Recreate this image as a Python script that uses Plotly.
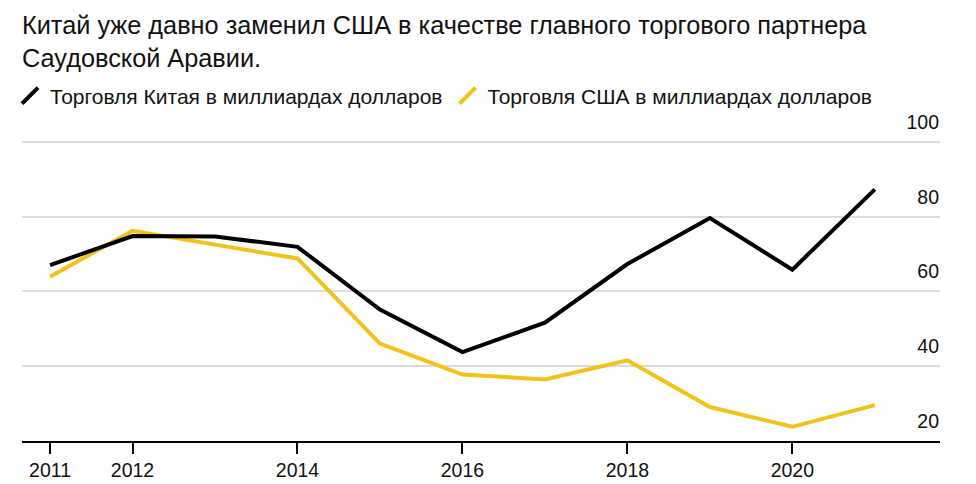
import plotly.graph_objects as go

years = [2011, 2012, 2013, 2014, 2015, 2016, 2017, 2018, 2019, 2020, 2021]
china_trade = [67.0, 74.8, 74.7, 71.9, 55.1, 43.7, 51.6, 67.3, 79.6, 65.8, 87.3]
us_trade = [63.9, 76.2, 72.5, 68.8, 46.0, 37.7, 36.4, 41.5, 29.0, 23.7, 29.5]

x_tick_vals = [2011, 2012, 2014, 2016, 2018, 2020]
x_tick_text = ["2011", "2012", "2014", "2016", "2018", "2020"]
y_tick_vals = [20, 40, 60, 80, 100]
y_tick_text = ["20", "40", "60", "80", "100"]

title_text = ("Китай уже давно заменил США в качестве главного торгового партнера<br>"
              "Саудовской Аравии.")
name_china = "Торговля Китая в миллиардах долларов"
name_us = "Торговля США в миллиардах долларов"

BLACK = "#000000"
TEXT = "#111111"
YELLOW = "#F2C21B"
FONT = "Liberation Sans, Arial, sans-serif"

fig = go.Figure()
fig.add_trace(go.Scatter(x=years, y=us_trade, mode="lines", name=name_us,
                         line=dict(color=YELLOW, width=4), showlegend=False))
fig.add_trace(go.Scatter(x=years, y=china_trade, mode="lines", name=name_china,
                         line=dict(color=BLACK, width=4), showlegend=False))
# legend entries with slanted stroke symbols
fig.add_trace(go.Scatter(x=[None], y=[None], mode="markers", name=name_china,
                         marker=dict(symbol="line-ne-open", size=16, color=BLACK,
                                     line=dict(color=BLACK, width=4))))
fig.add_trace(go.Scatter(x=[None], y=[None], mode="markers", name=name_us,
                         marker=dict(symbol="line-ne-open", size=16, color=YELLOW,
                                     line=dict(color=YELLOW, width=4))))

fig.update_layout(
    width=976, height=484,
    margin=dict(l=22, r=36, t=110, b=43, autoexpand=False),
    paper_bgcolor="white", plot_bgcolor="white",
    font=dict(family=FONT, color=TEXT, size=18),
    title=dict(text=title_text, x=22 / 976, xanchor="left", xref="container",
               y=1 - 34 / 484, yanchor="top", yref="container",
               font=dict(size=25.3, family=FONT, color=TEXT)),
    legend=dict(orientation="h", x=10 / 976, xanchor="left", xref="container",
                y=1 - 96 / 484, yanchor="middle", yref="container",
                font=dict(size=21, family=FONT, color=TEXT),
                itemwidth=30, tracegroupgap=0, bgcolor="rgba(0,0,0,0)"),
    xaxis=dict(range=[2010.66, 2021.79], tickvals=x_tick_vals, ticktext=x_tick_text,
               showgrid=False, zeroline=False, showline=True, linecolor=BLACK,
               linewidth=2, ticks="outside", ticklen=11, tickwidth=1.5,
               tickcolor=BLACK, tickfont=dict(size=19.5, family=FONT, color=TEXT),
               automargin=False),
    yaxis=dict(range=[19.9, 108.56], tickvals=y_tick_vals, ticktext=y_tick_text,
               side="right", ticklabelposition="inside top", ticks="",
               ticklabelshift=-6, ticklabelstandoff=-2,
               showgrid=True, gridcolor="#DCDCDC", gridwidth=1.5,
               zeroline=False, showline=False, automargin=False,
               tickfont=dict(size=19.5, family=FONT, color=TEXT)),
)

fig.write_html("out.html", post_script="document.body.style.margin='0';",
               config={"displayModeBar": False})
